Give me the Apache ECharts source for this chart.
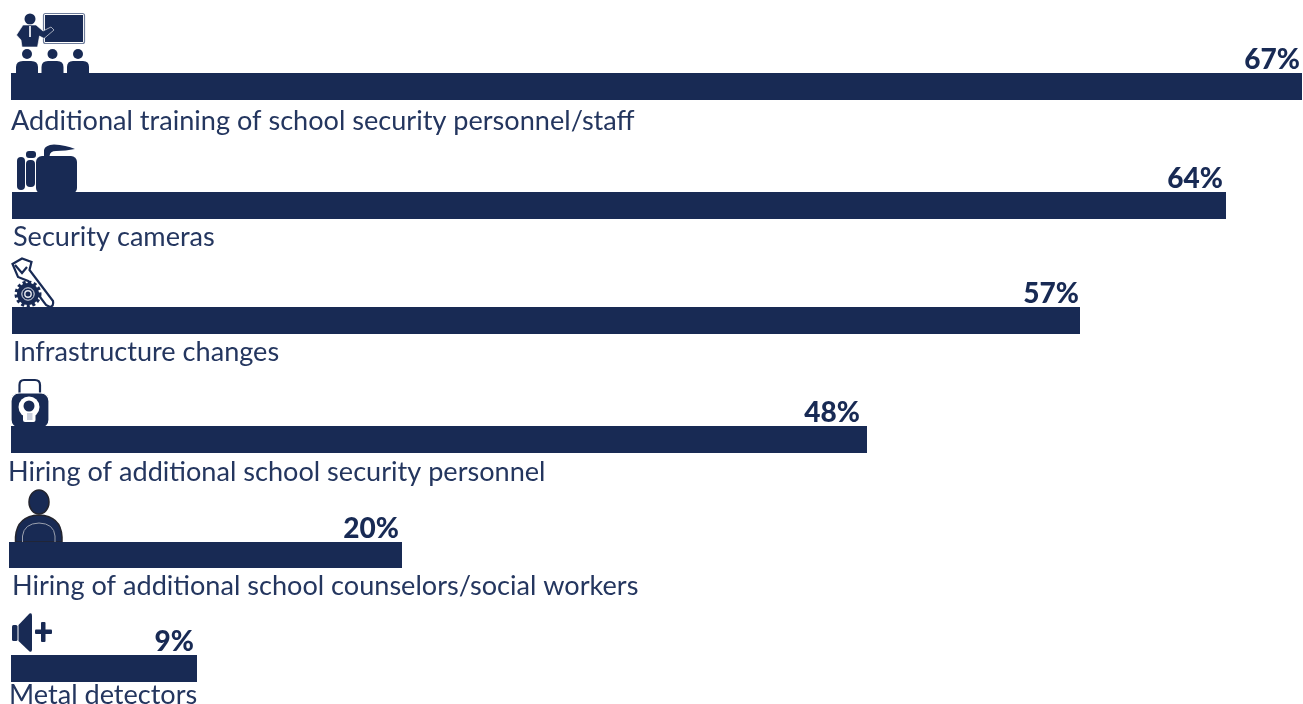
<!DOCTYPE html>
<html>
<head>
<meta charset="utf-8">
<title>School safety measures</title>
<style>html,body{margin:0;padding:0;background:#fff}#chart{width:1303px;height:704px}</style>
<script src="https://cdn.jsdelivr.net/npm/echarts@6/dist/echarts.min.js"></script>
</head>
<body>
<div id="chart"></div>
<script>
// Share of respondents naming each school safety measure
const categories = [
  'Additional training of school security personnel/staff',
  'Security cameras',
  'Infrastructure changes',
  'Hiring of additional school security personnel',
  'Hiring of additional school counselors/social workers',
  'Metal detectors'
];
const shares = [67, 64, 57, 48, 20, 9];

const NAVY = '#182a54';
const FONT = 'Lato, Carlito, "Open Sans", sans-serif';

// Each measure is its own panel: bar box, value-label nudge and caption anchor
const panels = [
  { left: 11, right: 1302, top: 73,  height: 27, nudge: -2, capX: 11, capY: 121 },
  { left: 12, right: 1226, top: 192, height: 27, nudge: -3, capX: 13, capY: 237 },
  { left: 12, right: 1080, top: 307, height: 27, nudge: -1, capX: 13, capY: 352 },
  { left: 11, right: 867,  top: 426, height: 27, nudge: -7, capX: 8,  capY: 472 },
  { left: 9,  right: 402,  top: 542, height: 26, nudge: -3, capX: 12, capY: 586 },
  { left: 11, right: 197,  top: 655, height: 27, nudge: -3, capX: 9,  capY: 695 }
];

// The graphic component has no plain path element, so each outline becomes a registered shape
let glyphCount = 0;
const glyph = (d, style) => {
  const name = 'glyph' + glyphCount++;
  echarts.graphic.registerShape(name, echarts.graphic.extendPath(d, {}));
  return { type: name, style };
};
const path = (d, style) => glyph(d, style || { fill: NAVY });
const line = (d, color, width) => glyph(d, { fill: 'none', stroke: color || NAVY, lineWidth: width || 2 });
const circle = (cx, cy, r, style) => ({ type: 'circle', shape: { cx, cy, r }, style });
const rect = (x, y, width, height, r, style) => ({ type: 'rect', shape: { x, y, width, height, r }, style });

// Pictograms above the bars
const teacher = [
  rect(43.5, 13.5, 41, 30, 2, { fill: '#fff', stroke: '#6f7d9b', lineWidth: 1.2 }),
  rect(45, 15, 38, 27, 0, { fill: NAVY }),
  circle(30, 19, 5.5, { fill: NAVY }),
  path('M23 25 L36 25 L43 31 L51 27 L54 30 L44 38.5 L39.5 36 L37.5 47 L22 47 L21 40 L16.5 35 Z',
    { fill: NAVY, stroke: '#fff', lineWidth: 0.6 }),
  rect(29, 26, 2, 11, 0, { fill: '#d5d9e3' }),
  circle(27, 54, 5, { fill: NAVY }), circle(52.5, 54, 5, { fill: NAVY }), circle(78, 54, 5, { fill: NAVY }),
  path('M16 73 L16 67 Q16 61 23 61 L31 61 Q38 61 38 67 L38 73 Z'),
  path('M41.5 73 L41.5 67 Q41.5 61 48 61 L57 61 Q63.5 61 63.5 67 L63.5 73 Z'),
  path('M67 73 L67 67 Q67 61 73 61 L83 61 Q89 61 89 67 L89 73 Z')
];
const camera = [
  rect(17, 157, 8, 33, 4, { fill: NAVY }),
  rect(26, 160, 9, 27, 4, { fill: NAVY }),
  rect(26, 151, 10, 7, 3, { fill: NAVY }),
  rect(36, 156, 41, 38, 6, { fill: NAVY }),
  path('M44 156 L44 150 Q45 145 54 144.5 Q66 145 75 149 Q66 151 56 151 Q50 151 49.5 156 Z')
];
const wrench = [
  line('M12.5 264 L22 258.5 L31.5 262 L29.5 270 L53 301 Q54 306 50 307 L46 305 L28 281 L18 277 Z', NAVY, 2.2),
  line('M15 265 L22 273 L27 267', NAVY, 2.2),
  circle(28, 294, 11, { fill: NAVY }),
  circle(28, 294, 11.5, { fill: 'none', stroke: NAVY, lineWidth: 4, lineDash: [3, 2.4] }),
  circle(28, 294, 6.2, { fill: 'none', stroke: '#e8eaf0', lineWidth: 1 }),
  circle(28, 294, 3.2, { fill: 'none', stroke: '#e8eaf0', lineWidth: 1.4 })
];
const padlock = [
  line('M19.5 393 L19.5 385 Q19.5 380 24 380 L35 380 Q40 380 40 385 L40 393', NAVY, 2.2),
  rect(11, 393, 38, 35, 8, { fill: NAVY, stroke: '#fff', lineWidth: 1.2 }),
  circle(29, 407, 10.5, { fill: '#fff' }),
  rect(23, 411, 12.5, 11, 2, { fill: '#fff' }),
  circle(29, 406, 5.5, { fill: NAVY }),
  rect(27, 413, 5.5, 7, 0, { fill: '#c9cedb' })
];
const counselor = [
  { type: 'ellipse', shape: { cx: 39, cy: 502, rx: 10, ry: 12 }, style: { fill: NAVY, stroke: '#23242e', lineWidth: 1.5 } },
  path('M15.5 542 L15.5 537 Q17 516 39 515 Q61 516 62 537 L62 542 Z',
    { fill: NAVY, stroke: '#23242e', lineWidth: 1.5 }),
  line('M22.5 542 L22.5 536 Q24 523.5 39 523 Q54 523.5 55 536 L55 542', '#9aa0ae', 1)
];
const speaker = [
  rect(12, 625, 5.5, 16, 1.5, { fill: NAVY }),
  path('M18.5 625 L29.5 613.5 Q32 612.5 32 615.5 L32 649.5 Q32 652.5 29.5 651.5 L18.5 641 Z'),
  rect(35, 629.5, 17, 4.5, 1, { fill: NAVY }),
  rect(41, 622, 4.5, 20, 1, { fill: NAVY })
];

const captions = categories.map((name, i) => ({
  type: 'text',
  x: panels[i].capX,
  y: panels[i].capY,
  style: { text: name, fill: '#24365f', font: '27.1px ' + FONT, textAlign: 'left', textVerticalAlign: 'middle' }
}));

const option = {
  animation: false,
  backgroundColor: '#fff',
  grid: panels.map(p => ({ left: p.left, width: p.right - p.left, top: p.top, height: p.height, containLabel: false })),
  xAxis: shares.map((v, i) => ({ type: 'value', gridIndex: i, min: 0, max: v, show: false })),
  yAxis: categories.map((c, i) => ({ type: 'category', gridIndex: i, data: [c], show: false })),
  series: shares.map((v, i) => ({
    type: 'bar',
    xAxisIndex: i,
    yAxisIndex: i,
    data: [v],
    barWidth: '100%',
    itemStyle: { color: NAVY },
    silent: true,
    label: {
      show: true,
      position: ['100%', 0],
      align: 'right',
      verticalAlign: 'bottom',
      offset: [panels[i].nudge, 1],
      formatter: '{c}%',
      color: NAVY,
      fontFamily: FONT,
      fontWeight: 900,
      fontSize: 28
    }
  })),
  graphic: [].concat(teacher, camera, wrench, padlock, counselor, speaker, captions)
};

const chart = echarts.init(document.getElementById('chart'), null, { renderer: 'canvas' });
chart.setOption(option);
</script>
</body>
</html>
